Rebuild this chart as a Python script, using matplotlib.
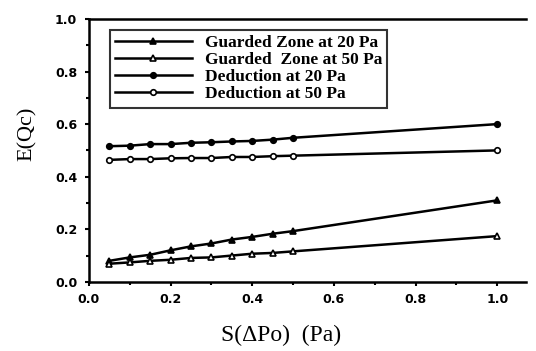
"""E(Qc) versus S(dPo) for guarded zone and deduction methods"""

import matplotlib
matplotlib.use('Agg')
import matplotlib.pyplot as plt
from matplotlib.ticker import MultipleLocator

s_dpo = [0.05, 0.10, 0.15, 0.20, 0.25, 0.30, 0.35, 0.40, 0.45, 0.50, 1.00]
guarded_20 = [0.080, 0.093, 0.103, 0.120, 0.135, 0.146, 0.161, 0.171, 0.183, 0.193, 0.310]
guarded_50 = [0.069, 0.074, 0.080, 0.084, 0.091, 0.093, 0.100, 0.107, 0.110, 0.116, 0.174]
deduction_20 = [0.516, 0.518, 0.524, 0.524, 0.529, 0.531, 0.534, 0.536, 0.541, 0.548, 0.600]
deduction_50 = [0.464, 0.467, 0.467, 0.470, 0.471, 0.471, 0.475, 0.475, 0.478, 0.480, 0.500]
labels = ['Guarded Zone at 20 Pa', 'Guarded  Zone at 50 Pa',
          'Deduction at 20 Pa', 'Deduction at 50 Pa']

plt.rcParams['font.family'] = ['Liberation Serif', 'DejaVu Serif']

fig = plt.figure(figsize=(5.36, 3.51), dpi=100)
ax = fig.add_axes([0.166, 0.197, 0.815, 0.749])

style = dict(color='black', lw=1.8, mew=1.2)
ax.plot(s_dpo, guarded_20, marker='^', ms=5, mfc='black', label=labels[0], **style)
ax.plot(s_dpo, guarded_50, marker='^', ms=5, mfc='white', label=labels[1], **style)
ax.plot(s_dpo, deduction_20, marker='o', ms=4, mfc='black', label=labels[2], **style)
ax.plot(s_dpo, deduction_50, marker='o', ms=4, mfc='white', label=labels[3], **style)

ax.set_xlim(0.0, 1.07)
ax.set_ylim(0.0, 1.0)
ax.xaxis.set_major_locator(MultipleLocator(0.2))
ax.xaxis.set_minor_locator(MultipleLocator(0.1))
ax.yaxis.set_major_locator(MultipleLocator(0.2))
ax.yaxis.set_minor_locator(MultipleLocator(0.1))
ax.xaxis.set_major_formatter(lambda v, p: f'{v:.1f}')
ax.yaxis.set_major_formatter(lambda v, p: f'{v:.1f}')
ax.tick_params(which='both', direction='out', width=1.5, labelsize=9)
ax.tick_params(which='major', length=3)
ax.tick_params(which='minor', length=2)
ax.tick_params(axis='y', pad=5.5)
ax.tick_params(axis='x', pad=5)
for lab in ax.get_xticklabels() + ax.get_yticklabels():
    lab.set_fontweight('bold')
    lab.set_family('DejaVu Sans')

ax.spines['right'].set_visible(False)
for side in ['left', 'bottom', 'top']:
    ax.spines[side].set_linewidth(1.8)

ax.set_xlabel('S(\u0394Po)  (Pa)', fontsize=17)
ax.set_ylabel('E(Qc)', fontsize=16)
ax.xaxis.set_label_coords(0.44, -0.163)
ax.yaxis.set_label_coords(-0.119, 0.563)

leg = ax.legend(loc='upper left', bbox_to_anchor=(0.048, 0.958), handlelength=4.4,
                frameon=True, fancybox=False, edgecolor='black', borderpad=0.3,
                labelspacing=0.05, handletextpad=0.75, borderaxespad=0.0,
                prop={'weight': 'bold', 'size': 12.5, 'family': ['Liberation Serif']})
leg.get_frame().set_linewidth(1.5)

fig.savefig('out.png', dpi=100)
